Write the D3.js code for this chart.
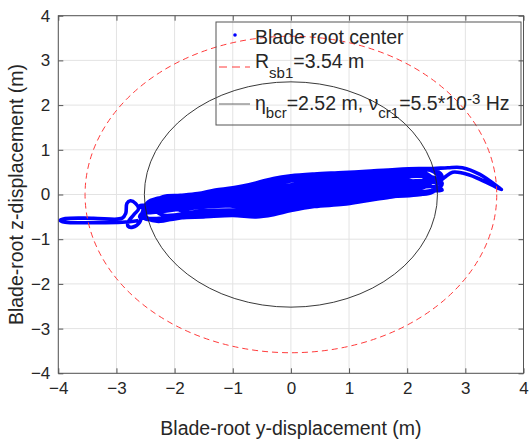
<!DOCTYPE html>
<html>
<head>
<meta charset="utf-8">
<script src="https://cdn.jsdelivr.net/npm/d3@7"></script>
<style>
  body { margin: 0; background: #fff; }
  text { font-family: "Liberation Sans", Arial, Helvetica, sans-serif; fill: #262626; }
</style>
</head>
<body>
<script>
(function () {
  'use strict';

  // axis ticks
  const xTicks = [-4, -3, -2, -1, 0, 1, 2, 3, 4];
  const yTicks = [-4, -3, -2, -1, 0, 1, 2, 3, 4];

  // circle radii (m)
  const rSb1 = 3.54;
  const etaBcr = 2.52;

  // blade root center trajectory, [y, z] in m
  const tailLeft = [
    [-2.62, -0.58], [-2.9, -0.62], [-3.4, -0.63], [-3.88, -0.62], [-3.97, -0.58],
    [-3.88, -0.54], [-3.4, -0.53], [-2.9, -0.53], [-2.84, -0.42], [-2.82, -0.2],
    [-2.76, -0.14], [-2.67, -0.2], [-2.62, -0.32], [-2.7, -0.45], [-2.8, -0.62],
    [-2.8, -0.71], [-2.72, -0.73], [-2.6, -0.62], [-2.55, -0.38]
  ];
  const band = [
    [-2.45, -0.16], [-1.5, 0.03], [-0.5, 0.25], [0, 0.39], [0.5, 0.43], [1.5, 0.5], [2.4, 0.54],
    [2.55, 0.35], [2.4, 0.07], [1.5, -0.07], [0.5, -0.23], [0, -0.31], [-0.5, -0.45], [-1.5, -0.45],
    [-2.4, -0.57], [-2.55, -0.38],
    [-2.3, -0.18], [-1.5, -0.06], [-0.5, 0.12], [0.5, 0.3], [1.5, 0.39], [2.3, 0.43],
    [2.42, 0.28], [2.2, 0.12], [1.5, 0.04], [0.5, -0.1], [-0.5, -0.32], [-1.5, -0.36],
    [-2.2, -0.46], [-2.35, -0.32],
    [-2.0, -0.23], [-1.5, -0.16], [-0.5, -0.03], [0.5, 0.17], [1.5, 0.27], [2.0, 0.33],
    [2.15, 0.25], [2.0, 0.21], [1.5, 0.13], [0.5, 0.0], [-0.5, -0.21], [-1.5, -0.28],
    [-2.0, -0.34], [-2.12, -0.28],
    [-1.5, 0.01], [-0.5, 0.22], [0, 0.36], [0.5, 0.41], [1.5, 0.48], [2.5, 0.53],
    [2.6, 0.4], [2.4, 0.26], [1.5, 0.19], [0.5, 0.07], [-0.5, -0.13], [-1.5, -0.23],
    [-2.5, -0.37], [-2.6, -0.5],
    [-2.4, -0.54], [-1.5, -0.44], [-0.5, -0.43], [0.5, -0.21], [1.5, -0.05],
    [1.75, 0.06], [1.5, 0.25], [0.5, 0.13], [-0.5, -0.06], [-1.5, -0.18],
    [-2.5, -0.33], [-2.6, -0.25],
    [-2.4, -0.23], [-1.5, -0.08], [-0.5, 0.08], [0.5, 0.27], [1.5, 0.36], [1.9, 0.42],
    [2.0, 0.35], [1.5, 0.3], [0.5, 0.2], [-0.5, 0.0], [-1.2, -0.11], [-1.35, -0.17],
    [-1.0, -0.26], [-0.5, -0.24], [0.5, -0.04], [1.5, 0.1], [2.2, 0.17],
    [2.35, 0.24], [2.2, 0.47], [1.5, 0.42], [0.5, 0.34], [0, 0.3], [-0.5, 0.16],
    [-1.5, -0.03], [-2.2, -0.13], [-2.35, -0.22],
    [-2.2, -0.47], [-1.5, -0.38], [-0.5, -0.35], [0.5, -0.14], [1.5, 0.01], [2.5, 0.12],
    [2.6, 0.25], [2.4, 0.4], [1.5, 0.33], [0.5, 0.24], [-0.5, 0.04], [-1.5, -0.11],
    [-2.4, -0.26], [-2.5, -0.4],
    [-2.3, -0.39], [-1.5, -0.26], [-0.5, -0.17], [0.5, 0.03], [1.5, 0.16], [2.3, 0.24],
    [2.45, 0.32], [2.3, 0.49], [1.5, 0.45], [0.5, 0.37], [0, 0.33], [-0.5, 0.19],
    [-1.5, -0.01], [-2.0, -0.09], [-2.1, -0.2],
    [-1.8, -0.39], [-0.5, -0.28], [0.5, -0.07], [1.5, 0.07], [2.5, 0.17],
    [2.6, 0.1], [2.4, 0.075], [1.5, -0.05], [0.5, -0.21], [0, -0.28], [-0.5, -0.42],
    [-1.5, -0.43], [-2.5, -0.55], [-2.58, -0.45],
    [-2.4, -0.36], [-1.5, -0.21], [-0.5, -0.1], [0.5, 0.1], [1.5, 0.22], [2.5, 0.3],
    [2.58, 0.2], [2.4, 0.03], [2.1, 0.0], [1.7, -0.06], [1.3, -0.14], [0.9, -0.22],
    [0.4, -0.27], [0, -0.36], [-0.3, -0.45], [-0.6, -0.5], [-1.0, -0.47], [-1.5, -0.5],
    [-1.9, -0.52], [-2.3, -0.6], [-2.5, -0.5],
    [-2.4, -0.2], [-2.2, -0.05], [-1.9, -0.02], [-1.6, 0.02], [-1.3, 0.1], [-1.0, 0.15],
    [-0.6, 0.26], [-0.3, 0.36], [0, 0.42], [0.4, 0.46], [0.9, 0.49], [1.3, 0.52],
    [1.8, 0.56], [2.2, 0.58], [2.45, 0.58]
  ];
  const tailRight = [
    [2.7, 0.6], [2.95, 0.6], [3.25, 0.45], [3.6, 0.13], [3.62, 0.11],
    [3.55, 0.15], [3.2, 0.37], [2.95, 0.48], [2.78, 0.5], [2.64, 0.38], [2.52, 0.27],
    [2.3, 0.3], [1.5, 0.24], [0.5, 0.11], [-0.5, -0.08], [-1.5, -0.2], [-2.2, -0.3]
  ];
  const rootPath = [...tailLeft, ...band, ...tailRight];

  const W = 529, H = 439;
  const plot = { left: 58.3, right: 523.5, top: 15.7, bottom: 373.3 };

  const svg = d3.select('body').append('svg')
    .attr('width', W)
    .attr('height', H);

  const x = d3.scaleLinear().domain([-4, 4]).range([plot.left, plot.right]);
  const y = d3.scaleLinear().domain([-4, 4]).range([plot.bottom, plot.top]);

  // gridlines
  const grid = svg.append('g').attr('stroke', '#e3e3e3').attr('stroke-width', 1);
  grid.selectAll('.gx').data(xTicks).enter().append('line')
    .attr('x1', d => x(d)).attr('x2', d => x(d))
    .attr('y1', plot.top).attr('y2', plot.bottom);
  grid.selectAll('.gy').data(yTicks).enter().append('line')
    .attr('y1', d => y(d)).attr('y2', d => y(d))
    .attr('x1', plot.left).attr('x2', plot.right);

  // trajectory
  const line = d3.line()
    .curve(d3.curveCatmullRom.alpha(0.5))
    .x(d => x(d[0]))
    .y(d => y(d[1]));

  svg.append('path')
    .attr('d', line(rootPath))
    .attr('fill', 'none')
    .attr('stroke', '#0000ff')
    .attr('stroke-width', 3.6)
    .attr('stroke-linejoin', 'round');

  // circles (drawn as ellipses since axes are not equal)
  svg.append('ellipse')
    .attr('cx', x(0)).attr('cy', y(0))
    .attr('rx', x(rSb1) - x(0)).attr('ry', y(0) - y(rSb1))
    .attr('fill', 'none')
    .attr('stroke', '#ff3b3b')
    .attr('stroke-width', 1)
    .attr('stroke-dasharray', '6,4');

  svg.append('ellipse')
    .attr('cx', x(0)).attr('cy', y(0))
    .attr('rx', x(etaBcr) - x(0)).attr('ry', y(0) - y(etaBcr))
    .attr('fill', 'none')
    .attr('stroke', '#222')
    .attr('stroke-width', 0.9);

  // axes
  const tickLen = 5;
  const axB = svg.append('g')
    .attr('transform', `translate(0,${plot.bottom})`)
    .call(d3.axisBottom(x).tickValues(xTicks).tickSizeInner(-tickLen).tickSizeOuter(0).tickPadding(9));
  const axL = svg.append('g')
    .attr('transform', `translate(${plot.left},0)`)
    .call(d3.axisLeft(y).tickValues(yTicks).tickSizeInner(-tickLen).tickSizeOuter(0).tickPadding(8));
  const axT = svg.append('g')
    .attr('transform', `translate(0,${plot.top})`)
    .call(d3.axisTop(x).tickValues(xTicks).tickSizeInner(-tickLen).tickSizeOuter(0).tickFormat(''));
  const axR = svg.append('g')
    .attr('transform', `translate(${plot.right},0)`)
    .call(d3.axisRight(y).tickValues(yTicks).tickSizeInner(-tickLen).tickSizeOuter(0).tickFormat(''));

  [axB, axL, axT, axR].forEach(g => {
    g.select('.domain').remove();
    g.selectAll('line').attr('stroke', '#555');
    g.selectAll('text')
      .attr('font-family', '"Liberation Sans", Arial, sans-serif')
      .attr('font-size', 17)
      .attr('fill', '#262626');
  });

  svg.append('rect')
    .attr('x', plot.left).attr('y', plot.top)
    .attr('width', plot.right - plot.left)
    .attr('height', plot.bottom - plot.top)
    .attr('fill', 'none')
    .attr('stroke', '#555')
    .attr('stroke-width', 1);

  // axis labels
  svg.append('text')
    .attr('x', (plot.left + plot.right) / 2)
    .attr('y', 435)
    .attr('text-anchor', 'middle')
    .attr('font-size', 19.5)
    .text('Blade-root y-displacement (m)');

  svg.append('text')
    .attr('transform', `translate(23,${(plot.top + plot.bottom) / 2}) rotate(-90)`)
    .attr('text-anchor', 'middle')
    .attr('font-size', 19.5)
    .text('Blade-root z-displacement (m)');

  // legend
  const lg = svg.append('g');
  lg.append('rect')
    .attr('x', 216).attr('y', 22)
    .attr('width', 305).attr('height', 103)
    .attr('fill', 'none')
    .attr('stroke', '#555')
    .attr('stroke-width', 1);

  lg.append('circle')
    .attr('cx', 235).attr('cy', 35).attr('r', 1.8)
    .attr('fill', '#0000ff');
  lg.append('text')
    .attr('x', 255).attr('y', 44.3)
    .attr('font-size', 19.5)
    .text('Blade root center');

  lg.append('line')
    .attr('x1', 219).attr('x2', 250).attr('y1', 67).attr('y2', 67)
    .attr('stroke', '#ff3b3b').attr('stroke-width', 1)
    .attr('stroke-dasharray', '8,5');
  const t2 = lg.append('text')
    .attr('x', 255).attr('y', 68.3)
    .attr('font-size', 19.5);
  t2.append('tspan').text('R');
  t2.append('tspan').attr('font-size', 15).attr('dy', 10).text('sb1');
  t2.append('tspan').attr('dy', -10).text('=3.54 m');

  lg.append('line')
    .attr('x1', 219).attr('x2', 250).attr('y1', 104).attr('y2', 104)
    .attr('stroke', '#666').attr('stroke-width', 1);
  const t3 = lg.append('text')
    .attr('x', 255).attr('y', 110)
    .attr('font-size', 19.5);
  t3.append('tspan').text('\u03B7');
  t3.append('tspan').attr('font-size', 15).attr('dy', 8).text('bcr');
  t3.append('tspan').attr('dy', -8).text('=2.52 m, \u03BD');
  t3.append('tspan').attr('font-size', 15).attr('dy', 8).text('cr1');
  t3.append('tspan').attr('dy', -8).text('=5.5*10');
  t3.append('tspan').attr('font-size', 15).attr('dy', -6).text('-3');
  t3.append('tspan').attr('dy', 6).text(' Hz');
})();
</script>
</body>
</html>
